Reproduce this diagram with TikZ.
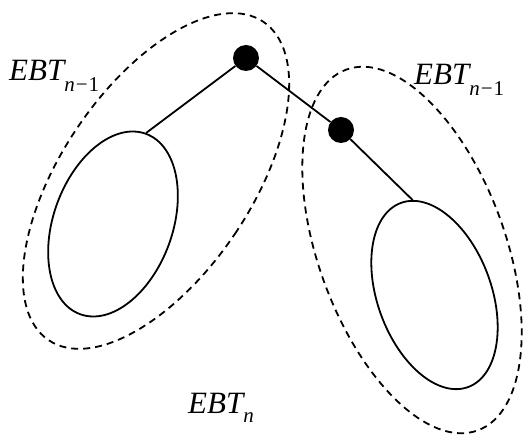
\documentclass[tikz,border=0pt]{standalone}
\usepackage{fontspec}
\setmainfont{Liberation Serif}
\newfontfamily\lblfont{Liberation Serif}
\usetikzlibrary{shapes.geometric}
\newcommand{\subsz}{\fontsize{21}{22}\selectfont}
\begin{document}
\begin{tikzpicture}[x=1pt,y=-1pt,
  dotnode/.style={circle,fill=black,inner sep=0pt,minimum size=26pt},
  subtree/.style={ellipse,draw,line width=1.8pt,inner sep=0pt},
  region/.style={ellipse,draw,dash pattern=on 7pt off 5pt,line width=1.8pt,inner sep=0pt},
  edgeline/.style={line width=1.8pt},
  lbl/.style={anchor=base west,inner sep=0pt,font=\lblfont\itshape\fontsize{31}{34}\selectfont}]
\useasboundingbox (0,0) rectangle (523,435);
\node[region,minimum width=190pt,minimum height=384pt,rotate=-34] (LR) at (156,181) {};
\node[region,minimum width=187pt,minimum height=384pt,rotate=20] (RR) at (412,250) {};
\node[subtree,minimum width=119pt,minimum height=192pt,rotate=-20] (LT) at (113,224) {};
\node[subtree,minimum width=114pt,minimum height=196pt,rotate=20] (RT) at (434.5,295) {};
\node[dotnode] (root) at (246,58) {};
\node[dotnode] (child) at (341,130) {};
\draw[edgeline] (root) -- (LT.north);
\draw[edgeline] (root) -- (child);
\draw[edgeline] (child) -- (RT.83);
\node[lbl] (l1) at (9,81) {EBT\raisebox{-11pt}{\subsz n\kern1pt\upshape−\kern1pt1}};
\node[lbl] (l2) at (414,85) {EBT\raisebox{-11pt}{\subsz n\kern1pt\upshape−\kern1pt1}};
\node[lbl] (l3) at (188,414) {EBT\raisebox{-9pt}{\subsz n}};
\end{tikzpicture}
\end{document}
